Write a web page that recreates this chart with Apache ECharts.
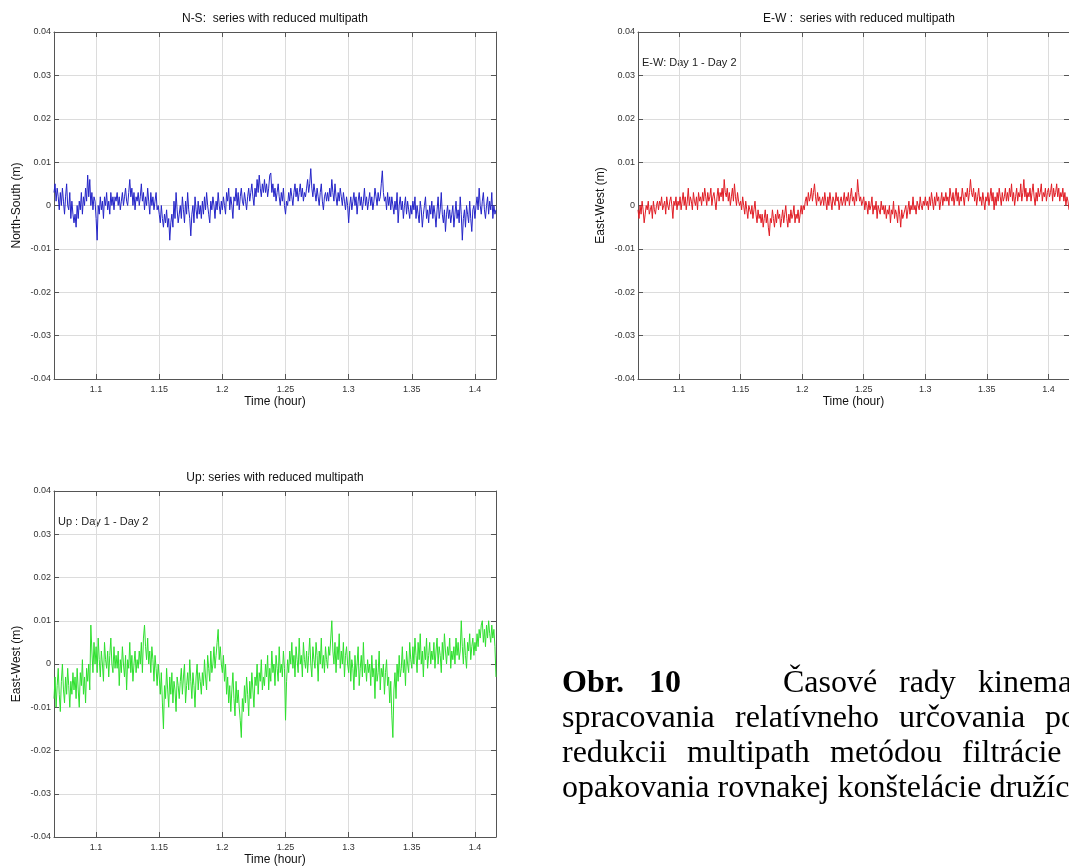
<!DOCTYPE html>
<html><head><meta charset="utf-8">
<script src="https://cdn.jsdelivr.net/npm/echarts@6/dist/echarts.min.js"></script>
<style>html,body{margin:0;padding:0;background:#fff}#c{width:1069px;height:868px}</style>
</head><body><div id="c"></div>
<script>
// sampling: time in hours, one value every 3 s
const T0 = 1.0667, DT = 0.00083333;
const X_MIN = 1.0667, X_MAX = 1.4167;
// values in millimetres (axis labels shown in metres)
const nsValues = [
 3,5,1,4,2,-1,3,0,4,1,-2,2,5,0,-1,3,-3,1,-2,-4,
 -2,-5,0,-3,1,-1,3,-2,2,0,4,1,7,2,6,0,3,-1,2,1,
 -3,-8,0,-2,2,-1,1,-3,2,0,3,-1,1,-2,3,0,2,-1,2,1,
 3,0,2,-1,1,3,0,2,4,1,0,3,6,2,4,0,3,-1,2,1,
 3,0,2,5,1,3,-1,2,0,4,1,-2,3,0,2,-1,1,3,-1,0,
 -2,-4,0,-3,-5,-2,-4,-1,-5,-3,-8,-4,-2,-5,1,-3,3,-1,-4,-2,
 0,-3,2,-1,-4,1,-2,3,-1,-3,-7,-2,0,-4,2,-1,-3,1,-2,0,
 -3,1,-2,2,-1,3,0,-2,-4,1,-1,2,0,-3,1,-1,3,0,-2,1,
 -1,2,0,-2,3,1,4,-1,2,0,-3,2,1,4,0,3,-1,2,4,1,
 0,3,1,-1,2,4,1,3,5,2,0,4,2,6,3,7,4,2,5,3,
 6,3,5,2,4,7,7.5,3,5,2,4,1,3,5,2,0,3,1,4,0,
 -2,1,0,3,1,4,2,0,3,5,2,4,1,3,5,2,4,1,3,2,
 4,6,3,5,8.5,4,2,5,3,1,4,2,0,3,5,1,-1,2,3,1,
 3,1,4,2,6,3,1,5,2,0,3,1,4,2,0,3,1,-1,2,0,
 -4,0,2,-1,1,3,0,2,-2,1,3,0,2,-1,1,4,0,2,-1,1,
 3,0,2,-1,1,4,2,0,3,1,2,5,8,3,1,2,-1,3,0,2,
 -1,2,0,-2,1,-1,3,-4,0,2,-1,1,-3,0,2,-2,1,-1,-3,0,
 -2,1,-1,2,-3,0,-2,-4,1,-1,-5,-2,0,2,-3,-1,-4,0,-2,1,
 -3,0,-2,-5,-1,2,-3,-1,3,-2,-4,-1,-6,-2,0,-3,-1,-4,-2,0,
 -5,-2,1,-3,-1,-4,2,-2,-8,-3,-1,-5,0,-2,-4,1,-3,-6,-1,0,
 -3,0,2,-1,4,0,-2,1,3,-1,-3,0,2,-2,1,-1,3,-3,0,-2,-1
];
const ewValues = [
 -1,-3,0,-2,1,-1,-4,-2,0,-1,1,-2,-1,0,-3,1,-1,-2,0,1,
 -1,1,0,2,-1,0,1,-2,2,0,-1,1,2,0,-3,1,0,2,-1,1,
 0,2,-1,1,3,0,2,-1,1,4,0,2,1,-1,3,1,0,2,-1,3,
 1,2,0,3,1,4,2,0,3,1,2,4,0,2,3,1,-1,2,4,1,
 3,2,4,1,6,3,2,4,1,3,0,2,4,1,5,2,0,3,1,0,
 1,-1,2,0,-2,1,-1,-3,0,-1,-2,0,-3,-1,1,-2,-4,-1,-3,-2,
 -4,-2,-5,-3,-1,-4,-2,-5,-7,-3,-4,-1,-3,-5,-2,-4,-1,-3,-2,-5,
 -3,-1,-4,-2,0,-3,-5,-2,-4,-1,-3,-2,0,-4,-2,-3,-1,-4,-2,0,
 -2,0,-1,1,2,0,3,1,2,4,1,3,5,2,0,3,1,2,0,1,
 2,0,3,1,-1,2,0,3,1,-1,2,1,0,3,1,2,-1,1,2,0,
 1,3,0,2,1,3,0,2,4,1,2,0,3,1,6,3,1,2,0,1,
 2,-1,1,0,-2,1,-1,0,2,-2,0,-1,1,-3,0,-1,-2,1,-1,0,
 -2,0,-3,-1,-2,0,-4,-1,-2,1,-3,-1,-2,-4,0,-2,-5,-1,-3,-2,
 -1,0,-3,-1,1,-2,0,-1,2,-1,0,-2,1,0,-1,2,0,-1,1,0,
 2,0,1,-1,2,0,3,1,-1,2,0,3,1,2,-1,1,3,0,2,1,
 3,1,2,0,4,2,1,3,0,2,4,1,3,0,2,1,4,2,0,3,
 2,4,1,3,6,3,2,4,1,3,0,2,4,1,2,0,3,1,-1,2,
 1,3,0,2,4,1,3,-1,2,0,3,1,4,2,0,3,1,2,4,1,
 3,1,4,2,5,1,3,0,2,4,1,3,2,5,1,3,6,2,4,1,
 3,2,4,1,3,5,2,0,3,1,4,2,3,5,1,3,2,4,1,3,
 4,2,3,5,1,4,2,3,5,2,4,1,3,2,4,1,3,0,2,1,-1
];
const upValues = [
 -8,-3,-10,-5,-1,-7,-11,-4,0,-6,-9,-3,-7,-1,-5,-10,-4,-7,-2,-6,
 -3,-8,-1,-6,-10,-2,-5,1,-7,-3,-9,-1,-4,0,-6,9,3,-2,5,0,
 4,-2,6,1,-3,3,0,-4,5,1,-1,3,-3,2,6,0,-2,4,-1,2,
 -1,3,-5,1,-2,4,0,-3,2,-6,1,-1,5,-2,2,-4,0,3,-2,1,
 -1,3,0,5,-2,6,9,4,1,6,0,3,-2,4,1,-4,2,-1,-5,0,
 -3,-7,-2,-9,-15,-5,-8,-1,-6,-10,-3,-7,-2,-9,-4,-6,-11,-3,-5,-8,
 -4,-1,-7,-3,0,-9,-5,-2,-6,1,-4,-8,-2,-5,-10,-3,0,-6,-2,-4,
 -7,-2,-5,1,-3,-6,2,-1,-4,3,-2,0,4,-1,2,5,8,1,4,0,
 -2,2,-4,0,-7,-3,-9,-5,-11,-6,-2,-8,-12,-4,-9,-6,-10,-13,-17,-8,
 -11,-5,-9,-3,-7,-12,-4,-8,-2,-6,-10,-3,-5,0,-7,-2,-4,1,-6,-3,
 -5,0,-3,2,-6,-1,-4,3,-2,0,-5,2,-1,-4,4,-2,0,-3,3,-1,
 -13,-4,1,-2,3,0,5,-1,2,-3,4,1,-2,6,0,2,-3,5,1,-1,
 3,-2,2,6,0,-3,4,1,-1,5,2,-4,3,0,6,-1,2,-2,4,1,
 -1,4,2,6,10,3,0,5,-2,4,1,7,-1,3,0,5,-3,2,4,0,
 -2,3,-4,1,-1,-6,2,-3,0,4,-5,-1,2,-3,5,-2,0,-4,1,-2,
 0,-5,2,-3,-1,-8,1,-4,-2,3,-6,-1,-3,0,-7,-2,1,-5,-3,-9,
 -4,-12,-17,-6,-2,-8,0,-4,2,-3,-1,4,-2,1,-5,3,0,-2,5,1,
 -1,4,0,6,2,-2,5,1,7,0,3,-3,4,1,6,-1,2,5,0,3,
 1,5,-1,3,6,0,4,2,-2,5,1,7,3,0,4,2,6,-1,3,1,
 4,0,6,2,5,1,3,10,4,0,6,2,-1,5,3,7,1,4,6,2,
 5,3,7,4,8,6,9,10,5,8,4,9,6,10,7,5,9,6,8,4,-3
];
const panelTitles = ['N-S:  series with reduced multipath','E-W :  series with reduced multipath','Up: series with reduced multipath'];
const yNames = ['North-South (m)','East-West (m)','East-West (m)'];
const notes = ['', 'E-W: Day 1 - Day 2', 'Up : Day 1 - Day 2'];
const xName = 'Time (hour)';
const Y_MIN = -40, Y_MAX = 40, Y_STEP = 10;
const colors = ['#2424c8','#e01c24','#2ee02e'];
const captionLines = [
 [['Obr.',true],['10',true],['Časové',false],['rady',false],['kinematického',false]],
 [['spracovania',false],['relatívneho',false],['určovania',false],['polohy',false]],
 [['redukcii',false],['multipath',false],['metódou',false],['filtrácie',false]],
 [['opakovania rovnakej konštelácie družíc',false]]
];

const chart = echarts.init(document.getElementById('c'), null, {renderer:'canvas'});
const FONT = 'Liberation Sans, Arial, sans-serif';
const grids = [
 {left:54, top:32, width:442, height:347},
 {left:638, top:32, width:442, height:347},
 {left:54, top:491, width:442, height:346}
];
const series = [nsValues, ewValues, upValues];
const xAxes = [], yAxes = [], ser = [], graphics = [];
const axisLineStyle = {color:'#555', width:1};
const tickStyle = {show:true, inside:true, length:5, lineStyle:{color:'#555'}};
grids.forEach((g, i) => {
  xAxes.push({gridIndex:i, type:'value', min:X_MIN, max:X_MAX, splitNumber:7, position:'bottom',
    axisLine:{show:true, onZero:false, lineStyle:axisLineStyle}, axisTick:tickStyle,
    axisLabel:{showMinLabel:false, showMaxLabel:false, fontSize:9, color:'#333', fontFamily:FONT, margin:6,
      formatter: v => String(+v.toFixed(2))},
    splitLine:{show:true, lineStyle:{color:'#dcdcdc', width:1}},
    name:xName, nameLocation:'middle', nameGap:17, nameTextStyle:{fontSize:12, color:'#111', fontFamily:FONT}});
  xAxes.push({gridIndex:i, type:'value', min:X_MIN, max:X_MAX, splitNumber:7, position:'top',
    axisLine:{show:true, onZero:false, lineStyle:axisLineStyle}, axisTick:tickStyle,
    axisLabel:{show:false}, splitLine:{show:false}});
  yAxes.push({gridIndex:i, type:'value', min:Y_MIN, max:Y_MAX, interval:Y_STEP, position:'left',
    axisLine:{show:true, onZero:false, lineStyle:axisLineStyle}, axisTick:tickStyle,
    axisLabel:{fontSize:9, color:'#333', fontFamily:FONT, margin:3,
      formatter: v => v === 0 ? '0' : (v/1000).toFixed(2)},
    splitLine:{show:true, lineStyle:{color:'#dcdcdc', width:1}},
    name:yNames[i], nameLocation:'middle', nameGap:31, nameRotate:90,
    nameTextStyle:{fontSize:12, color:'#111', fontFamily:FONT}});
  yAxes.push({gridIndex:i, type:'value', min:Y_MIN, max:Y_MAX, interval:Y_STEP, position:'right',
    axisLine:{show:true, onZero:false, lineStyle:axisLineStyle}, axisTick:tickStyle,
    axisLabel:{show:false}, splitLine:{show:false}});
  ser.push({type:'line', xAxisIndex:2*i, yAxisIndex:2*i, showSymbol:false, symbol:'none',
    lineStyle:{color:colors[i], width:1}, itemStyle:{color:colors[i]},
    data: series[i].map((v, k) => [T0 + k*DT, v]), animation:false, clip:true});
  graphics.push({type:'text', x:g.left + g.width/2, y:g.top - 13,
    style:{text:panelTitles[i], textAlign:'center', textVerticalAlign:'middle', fontSize:12, fontFamily:FONT, fill:'#111'}});
  if (notes[i]) graphics.push({type:'text', x:g.left + 4, y:g.top + 31,
    style:{text:notes[i], textAlign:'left', textVerticalAlign:'middle', fontSize:11, fontFamily:FONT, fill:'#222'}});
});
// caption (justified words, cut by the page edge)
const capX = [[562,649,783,899,978],[562,735,899,1045],[562,687,830,962],[562]];
const capY = [684,719,754,789];
captionLines.forEach((line, li) => {
  line.forEach((w, wi) => {
    graphics.push({type:'text', x:capX[li][wi], y:capY[li],
      style:{text:w[0], textAlign:'left', textVerticalAlign:'middle', fontSize:32,
        fontWeight: w[1] ? 'bold' : 'normal', fontFamily:'Liberation Serif, Times New Roman, serif', fill:'#000'}});
  });
});
chart.setOption({animation:false, backgroundColor:'#fff', grid:grids, xAxis:xAxes, yAxis:yAxes, series:ser, graphic:graphics});
</script></body></html>
